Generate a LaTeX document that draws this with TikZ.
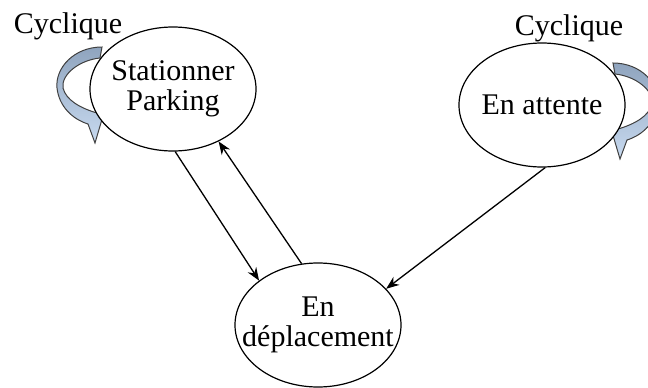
\documentclass[tikz,border=0pt]{standalone}
\usepackage{fontspec}
\setmainfont{Liberation Serif}
\usetikzlibrary{shapes.geometric,arrows.meta}
\definecolor{bandehaut}{HTML}{8FA4BE}
\definecolor{bandebas}{HTML}{C8DAF0}
\tikzset{
    etat/.style={ellipse, draw, line width=1.2pt, fill=white,
                 minimum width=166pt, minimum height=124pt,
                 inner xsep=-20pt, inner ysep=0pt,
                 align=center, font=\fontsize{30}{30}\selectfont},
    etiquette/.style={font=\fontsize{30}{30}\selectfont, inner sep=0pt},
    fleche/.style={-{Stealth[length=13pt,width=10pt]}, line width=1.3pt},
    boucle/.style={draw=black!75, line width=1pt, top color=bandehaut, bottom color=bandebas}
}
% curved block arrow, drawn around the origin (left side of an ellipse)
\newcommand{\courbe}{(-71,-42) .. controls (-99,-42) and (-118,-21) .. (-116,-1)
    .. controls (-114,17) and (-101,30) .. (-85,35) -- (-78,54) -- (-70,27) -- (-76,24)
    .. controls (-93,19) and (-107,11) .. (-110,-1)
    .. controls (-112,-15) and (-93,-29) .. (-73,-31) -- cycle}

\begin{document}
\begin{tikzpicture}[x=1pt, y=-1pt]
    \useasboundingbox (0,0) rectangle (648,388);

    % Cyclic loops
    \begin{scope}[shift={(173,89)}]
        \path[boucle] \courbe;
    \end{scope}
    \begin{scope}[shift={(542,105)}, xscale=-1]
        \path[boucle] \courbe;
    \end{scope}

    % States
    \node[etat] (st) at (173,89) {Stationner\\Parking};
    \node[etat] (att) at (542,105) {En attente};
    \node[etat] (dep) at (318,325) {En\\déplacement};

    % Labels
    \node[etiquette, anchor=base] (cycA) at (68,33) {Cyclique};
    \node[etiquette, anchor=base] (cycB) at (569,35) {Cyclique};

    % Transitions
    \draw[fleche] (st.-88) -- (dep.143);
    \draw[fleche] (dep.105) -- (st.-49);
    \draw[fleche] (att.-87) -- (dep.28);
\end{tikzpicture}
\end{document}
